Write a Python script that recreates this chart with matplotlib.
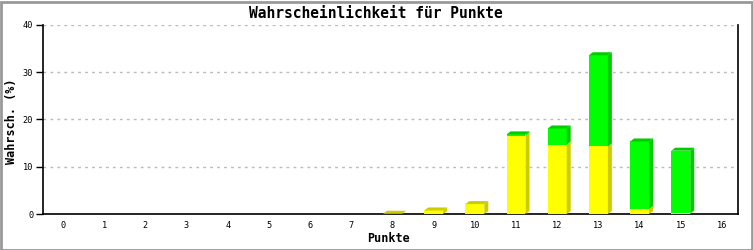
import numpy as np
import matplotlib.pyplot as plt
from matplotlib.patches import Polygon, Rectangle

# Punkte 0..16, two stacked parts (yellow below, green above), in %
punkte = list(range(17))
gelb = [0, 0, 0, 0, 0, 0, 0, 0, 0.05, 0.75, 2.1, 16.6, 14.7, 14.3, 1.05, 0.15, 0]
gruen = [0, 0, 0, 0, 0, 0, 0, 0, 0, 0, 0, 0.25, 3.4, 19.3, 14.3, 13.25, 0]

W, H = 753, 250
fig = plt.figure(figsize=(W / 100, H / 100), dpi=100)
fig.patch.set_facecolor('white')
ax = fig.add_axes([43 / W, (H - 214) / H, (738 - 43) / W, (214 - 25) / H])

xmin, xmax = -0.486, 16.39
ymin, ymax = 0, 40
ax.set_xlim(xmin, xmax)
ax.set_ylim(ymin, ymax)

# depth of the fake 3d effect, in data units (about 4px right, 3px up)
dx = 4 * (xmax - xmin) / (738 - 43)
dy = 3 * (ymax - ymin) / (214 - 25)
bw = 0.46

farben = [('#ffff00', '#cccc00'), ('#00ff00', '#00cc00')]

for x, g1, g2 in zip(punkte, gelb, gruen):
    if g1 + g2 <= 0:
        continue
    x0, x1 = x - bw / 2, x + bw / 2
    unten = 0
    oben_farbe = None
    for h, (front, dunkel) in zip([g1, g2], farben):
        if h <= 0:
            continue
        ax.add_patch(Rectangle((x0, unten), bw, h, facecolor=front, edgecolor='none', zorder=3))
        ax.add_patch(Polygon([(x1, unten), (x1 + dx, unten + dy), (x1 + dx, unten + h + dy), (x1, unten + h)],
                             closed=True, facecolor=dunkel, edgecolor='none', zorder=3))
        unten += h
        oben_farbe = dunkel
    ax.add_patch(Polygon([(x0, unten), (x0 + dx, unten + dy), (x1 + dx, unten + dy), (x1, unten)],
                         closed=True, facecolor=oben_farbe, edgecolor='none', zorder=3))

mono = 'DejaVu Sans Mono'
ax.set_yticks([0, 10, 20, 30, 40])
ax.set_xticks(punkte)
ax.set_xticklabels([str(p) for p in punkte], fontsize=6.2, family=mono)
ax.set_yticklabels(['0', '10', '20', '30', '40'], fontsize=6.2, family=mono)
ax.tick_params(axis='x', length=0, pad=5)
ax.tick_params(axis='y', length=5, width=1, pad=2)

ax.yaxis.grid(True, color='#bbbbbb', linestyle=(0, (2, 3)), linewidth=1)
ax.set_axisbelow(True)
ax.spines['top'].set_visible(False)
for s in ['left', 'bottom', 'right']:
    ax.spines[s].set_color('black')
    ax.spines[s].set_linewidth(1.2)

fig.text(376 / W, 1 - 13 / H, 'Wahrscheinlichkeit für Punkte', ha='center', va='center',
         fontsize=10.5, fontweight='bold', family=mono)
fig.text(389 / W, 1 - 239 / H, 'Punkte', ha='center', va='center',
         fontsize=8.5, fontweight='bold', family=mono)
fig.text(12 / W, 1 - 121 / H, 'Wahrsch. (%)', ha='center', va='center', rotation=90,
         fontsize=8.5, fontweight='bold', family=mono)

# grey frame around the picture
fig.patches.append(Rectangle((0.5 / W, 0.5 / H), 1 - 2 / W, 1 - 2 / H, transform=fig.transFigure,
                             fill=False, edgecolor='#999999', linewidth=2))

fig.savefig('out.png', dpi=100)
